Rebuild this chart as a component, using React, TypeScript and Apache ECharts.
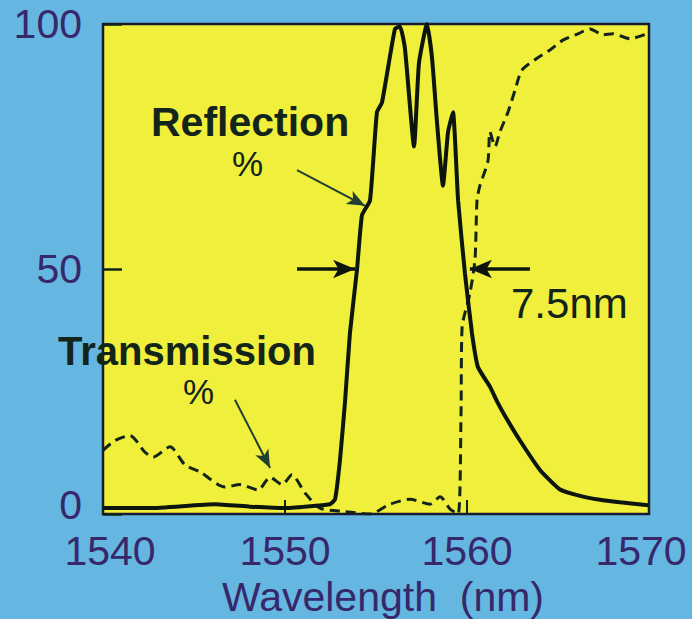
import React, { useEffect, useRef } from "react";
import * as echarts from "echarts";

// Reflection spectrum (solid)
const reflWavelength = [
  1540.0, 1542.58, 1546.15, 1548.08, 1550.0, 1551.37, 1552.47, 1552.75, 1553.02, 1553.3,
  1553.57, 1553.96, 1554.23, 1554.67, 1555.05, 1555.33, 1556.04, 1556.32, 1556.59, 1557.09,
  1557.36, 1557.8, 1558.08, 1558.35, 1558.68, 1558.96, 1559.23, 1559.51, 1559.89, 1560.27,
  1560.6, 1561.26, 1561.65, 1562.09, 1562.91, 1564.01, 1565.11, 1566.21, 1567.31, 1568.41,
  1569.95,
];
const reflPercent = [
  1.2, 1.2, 2.0, 1.5, 1.2, 1.6, 2.0, 3, 11, 23,
  37, 50, 61, 64, 82, 84, 99, 99.5, 95, 75,
  92, 100, 93, 80, 67, 78, 82, 64, 49, 37,
  30, 26, 23, 20, 15, 9, 5, 3.7, 2.9, 2.4,
  1.8,
];

// Transmission spectrum (dashed)
const transWavelength = [
  1540.0, 1540.66, 1541.48, 1542.31, 1542.75, 1543.68, 1544.51, 1545.33, 1546.7, 1547.53,
  1548.52, 1549.18, 1549.84, 1550.38, 1551.1, 1551.92, 1553.3, 1554.67, 1555.77, 1556.87,
  1557.97, 1558.52, 1559.07, 1559.51, 1559.67, 1559.73, 1560.16, 1560.44, 1560.55, 1560.71,
  1561.15, 1561.26, 1561.54, 1561.81, 1562.25, 1562.64, 1563.02, 1563.85, 1564.56, 1565.27,
  1566.1, 1566.76, 1567.47, 1568.02, 1568.96, 1569.89,
];
const transPercent = [
  13, 15, 16, 12.6, 11.6, 13.7, 10, 8.6, 5.5, 6,
  4.9, 7.5, 6, 8, 4.3, 1.2, 0.5, 0, 2, 3,
  2, 3.5, 1, 0, 20, 38, 45, 52, 64, 67,
  72, 78, 75, 78, 82, 86.5, 90.6, 93, 94.7, 96.7,
  98, 99, 97.8, 98, 97, 98,
];

const xTicks = [1540, 1550, 1560, 1570];
const yTicks = [0, 50, 100];

// FWHM markers (7.5 nm) and pointer arrows, in data units
const fwhmLevel = 50;
const fwhmLeftArrow = [1550.66, 1553.85];
const fwhmRightArrow = [1563.46, 1560.16];
const reflPointer = [[1550.66, 70.2], [1554.4, 62.9]];
const transPointer = [[1547.25, 23.3], [1549.18, 9.4]];

const FONT = "'Liberation Sans', Arial, Helvetica, sans-serif";
const AXIS_COLOR = "#36286a";
const INK = "#13241a";
const AX_FS = 41;

export default function App() {
  const ref = useRef<HTMLDivElement>(null);

  useEffect(() => {
    if (!ref.current) return;
    const chart = echarts.init(ref.current, null, { renderer: "svg" });

    const reflData = reflWavelength.map((w, i) => [w, reflPercent[i]]);
    const transData = transWavelength.map((w, i) => [w, transPercent[i]]);

    chart.setOption({
      animation: false,
      backgroundColor: "#66b6e2",
      textStyle: { fontFamily: FONT },
      grid: {
        left: 103,
        right: 43,
        top: 24,
        bottom: 105,
        containLabel: false,
        outerBoundsMode: "none",
        show: true,
        backgroundColor: "#f0ef3c",
        borderColor: "#1c1a30",
        borderWidth: 2.5,
      },
      xAxis: {
        type: "value",
        min: xTicks[0],
        max: xTicks[xTicks.length - 1],
        interval: 10,
        axisLine: { show: false },
        splitLine: { show: false },
        axisTick: { show: true, inside: true, length: 14, lineStyle: { color: INK, width: 2 } },
        axisLabel: {
          fontSize: AX_FS,
          lineHeight: 40,
          color: AXIS_COLOR,
          fontFamily: FONT,
          margin: 17,
          formatter: (v: number) => {
            if (v === xTicks[0]) return `{a|${v}}`;
            if (v === xTicks[xTicks.length - 1]) return `{b|${v}}`;
            return `${v}`;
          },
          rich: {
            a: { fontSize: AX_FS, lineHeight: 40, color: AXIS_COLOR, fontFamily: FONT, padding: [0, 0, 0, 14] },
            b: { fontSize: AX_FS, lineHeight: 40, color: AXIS_COLOR, fontFamily: FONT, padding: [0, 16, 0, 0] },
          },
        },
        name: "Wavelength  (nm)",
        nameLocation: "middle",
        nameGap: 59,
        nameTextStyle: { fontSize: 41, lineHeight: 34, color: AXIS_COLOR, fontFamily: FONT, padding: [0, 0, 0, 14] },
      },
      yAxis: {
        type: "value",
        min: yTicks[0],
        max: yTicks[yTicks.length - 1],
        interval: 50,
        axisLine: { show: false },
        splitLine: { show: false },
        axisTick: { show: true, inside: true, length: 19, lineStyle: { color: INK, width: 2.5 } },
        axisLabel: {
          fontSize: AX_FS,
          lineHeight: 30,
          color: AXIS_COLOR,
          fontFamily: FONT,
          margin: 21,
          formatter: (v: number) => (v === yTicks[0] ? `{z|${v}}` : `${v}`),
          rich: {
            z: { fontSize: AX_FS, lineHeight: 30, color: AXIS_COLOR, fontFamily: FONT, padding: [0, 0, 18, 0] },
          },
        },
      },
      series: [
        {
          name: "Transmission",
          type: "line",
          data: transData,
          showSymbol: false,
          smooth: 0.25,
          lineStyle: { color: INK, width: 3, type: [10, 6] },
          silent: true,
          z: 2,
          markLine: {
            silent: true,
            symbol: ["none", "arrow"],
            symbolSize: [11, 18],
            label: { show: false },
            lineStyle: { color: "#1f4030", width: 2, type: "solid" },
            data: [
              [
                { coord: reflPointer[0] },
                { coord: reflPointer[1] },
              ],
              [
                { coord: transPointer[0] },
                { coord: transPointer[1] },
              ],
            ],
          },
        },
        {
          name: "Reflection",
          type: "line",
          data: reflData,
          showSymbol: false,
          smooth: 0.15,
          lineStyle: { color: "#0d150f", width: 4 },
          silent: true,
          z: 3,
          markLine: {
            silent: true,
            symbol: ["none", "arrow"],
            symbolSize: [14, 22],
            label: { show: false },
            lineStyle: { color: "#0d150f", width: 3.5, type: "solid" },
            data: [
              [
                { coord: [fwhmLeftArrow[0], fwhmLevel] },
                { coord: [fwhmLeftArrow[1], fwhmLevel] },
              ],
              [
                { coord: [fwhmRightArrow[0], fwhmLevel] },
                { coord: [fwhmRightArrow[1], fwhmLevel] },
              ],
            ],
          },
        },
      ],
      graphic: [
        {
          type: "text",
          left: 151,
          top: 101,
          z: 10,
          style: { text: "Reflection", fontSize: 41, fontWeight: "bold", fill: INK, fontFamily: FONT },
        },
        {
          type: "text",
          left: 232,
          top: 146,
          z: 10,
          style: { text: "%", fontSize: 35, fill: INK, fontFamily: FONT },
        },
        {
          type: "text",
          left: 58,
          top: 331,
          z: 10,
          style: { text: "Transmission", fontSize: 40, fontWeight: "bold", fill: INK, fontFamily: FONT },
        },
        {
          type: "text",
          left: 183,
          top: 374,
          z: 10,
          style: { text: "%", fontSize: 35, fill: INK, fontFamily: FONT },
        },
        {
          type: "text",
          left: 511,
          top: 282,
          z: 10,
          style: { text: "7.5nm", fontSize: 42, fill: INK, fontFamily: FONT },
        },
      ],
    });

    return () => chart.dispose();
  }, []);

  return (
    <div
      ref={ref}
      style={{ position: "absolute", left: 0, top: 0, width: 692, height: 619 }}
    />
  );
}
